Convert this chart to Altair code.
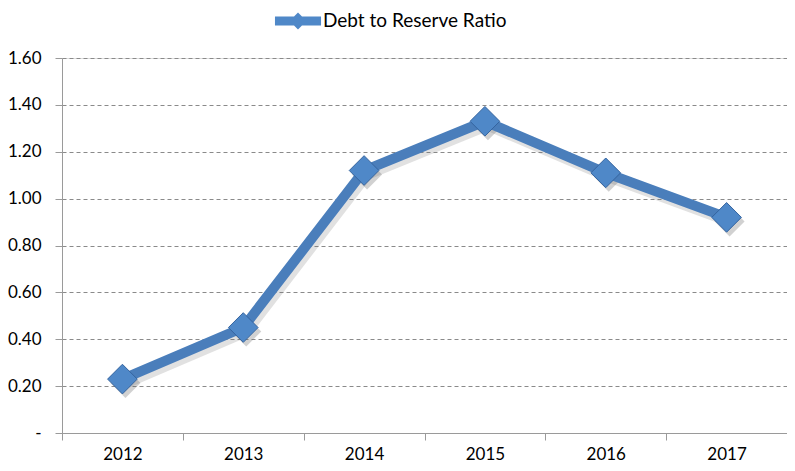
import altair as alt
import pandas as pd

years = ["2012", "2013", "2014", "2015", "2016", "2017"]
ratio = [0.23, 0.45, 1.12, 1.33, 1.11, 0.92]
series = ["Debt to Reserve Ratio"] * len(years)
y_ticks = [0, 0.2, 0.4, 0.6, 0.8, 1.0, 1.2, 1.4, 1.6]

df = pd.DataFrame({"year": years, "ratio": ratio, "series": series})

FONT = "Lato"
BLUE = "#4a7ebb"
GREY = "#9a9a9a"

x_enc = alt.X("year:N", sort=years,
              scale=alt.Scale(paddingInner=0, paddingOuter=0),
              axis=alt.Axis(title=None, domainColor=GREY, tickColor=GREY,
                            tickBand="extent", tickSize=7, labelFontSize=17,
                            labelFont=FONT, labelColor="#000", labelPadding=6,
                            labelAngle=0, grid=False))
y_enc = alt.Y("ratio:Q", scale=alt.Scale(domain=[0, 1.6], nice=False),
              axis=alt.Axis(title=None, values=y_ticks, domainColor=GREY,
                            tickColor=GREY, tickSize=7, labelFontSize=17,
                            labelFont=FONT, labelColor="#000", labelPadding=14,
                            labelExpr="datum.value == 0 ? '-\u00a0\u00a0\u00a0' : format(datum.value, '.2f')",
                            grid=True, gridColor="#8a8a8a", gridDash=[4, 3],
                            gridWidth=1))

base = alt.Chart(df)

shadow = base.mark_line(color="#777", strokeWidth=11, opacity=0.22,
                        xOffset=3, yOffset=4).encode(x=x_enc, y=y_enc)
line = base.mark_line(color=BLUE, strokeWidth=10).encode(x=x_enc, y=y_enc)
pt_shadow = base.mark_point(shape="diamond", size=900, filled=True,
                            color="#666", opacity=0.3, xOffset=3, yOffset=4
                            ).encode(x=x_enc, y=y_enc)
points = base.mark_point(shape="diamond", size=880, filled=True, opacity=1,
                         stroke="#35649f", strokeWidth=1).encode(
    x=x_enc, y=y_enc,
    color=alt.Color("series:N",
                    scale=alt.Scale(range=["#4f88c8"]),
                    legend=alt.Legend(
                        title=None, orient="none", legendX=223, legendY=-50,
                        symbolType="M-1.8,-0.35H1.8V0.35H-1.8Z M0,-0.66L0.66,0L0,0.66L-0.66,0Z",
                        symbolSize=655, symbolStrokeWidth=0,
                        symbolFillColor=BLUE, symbolOpacity=1,
                        labelFont=FONT, labelFontSize=19, labelColor="#000",
                        labelOffset=12, labelLimit=0, padding=0)))

chart = alt.layer(shadow, pt_shadow, line, points).properties(
    width=725, height=375,
    autosize=alt.AutoSizeParams(type="none"),
    padding={"left": 54, "top": 50, "right": 0, "bottom": 30},
).configure_view(stroke=None).configure(background="white")

chart.save("out.html", embed_options={"renderer": "svg", "actions": False})
